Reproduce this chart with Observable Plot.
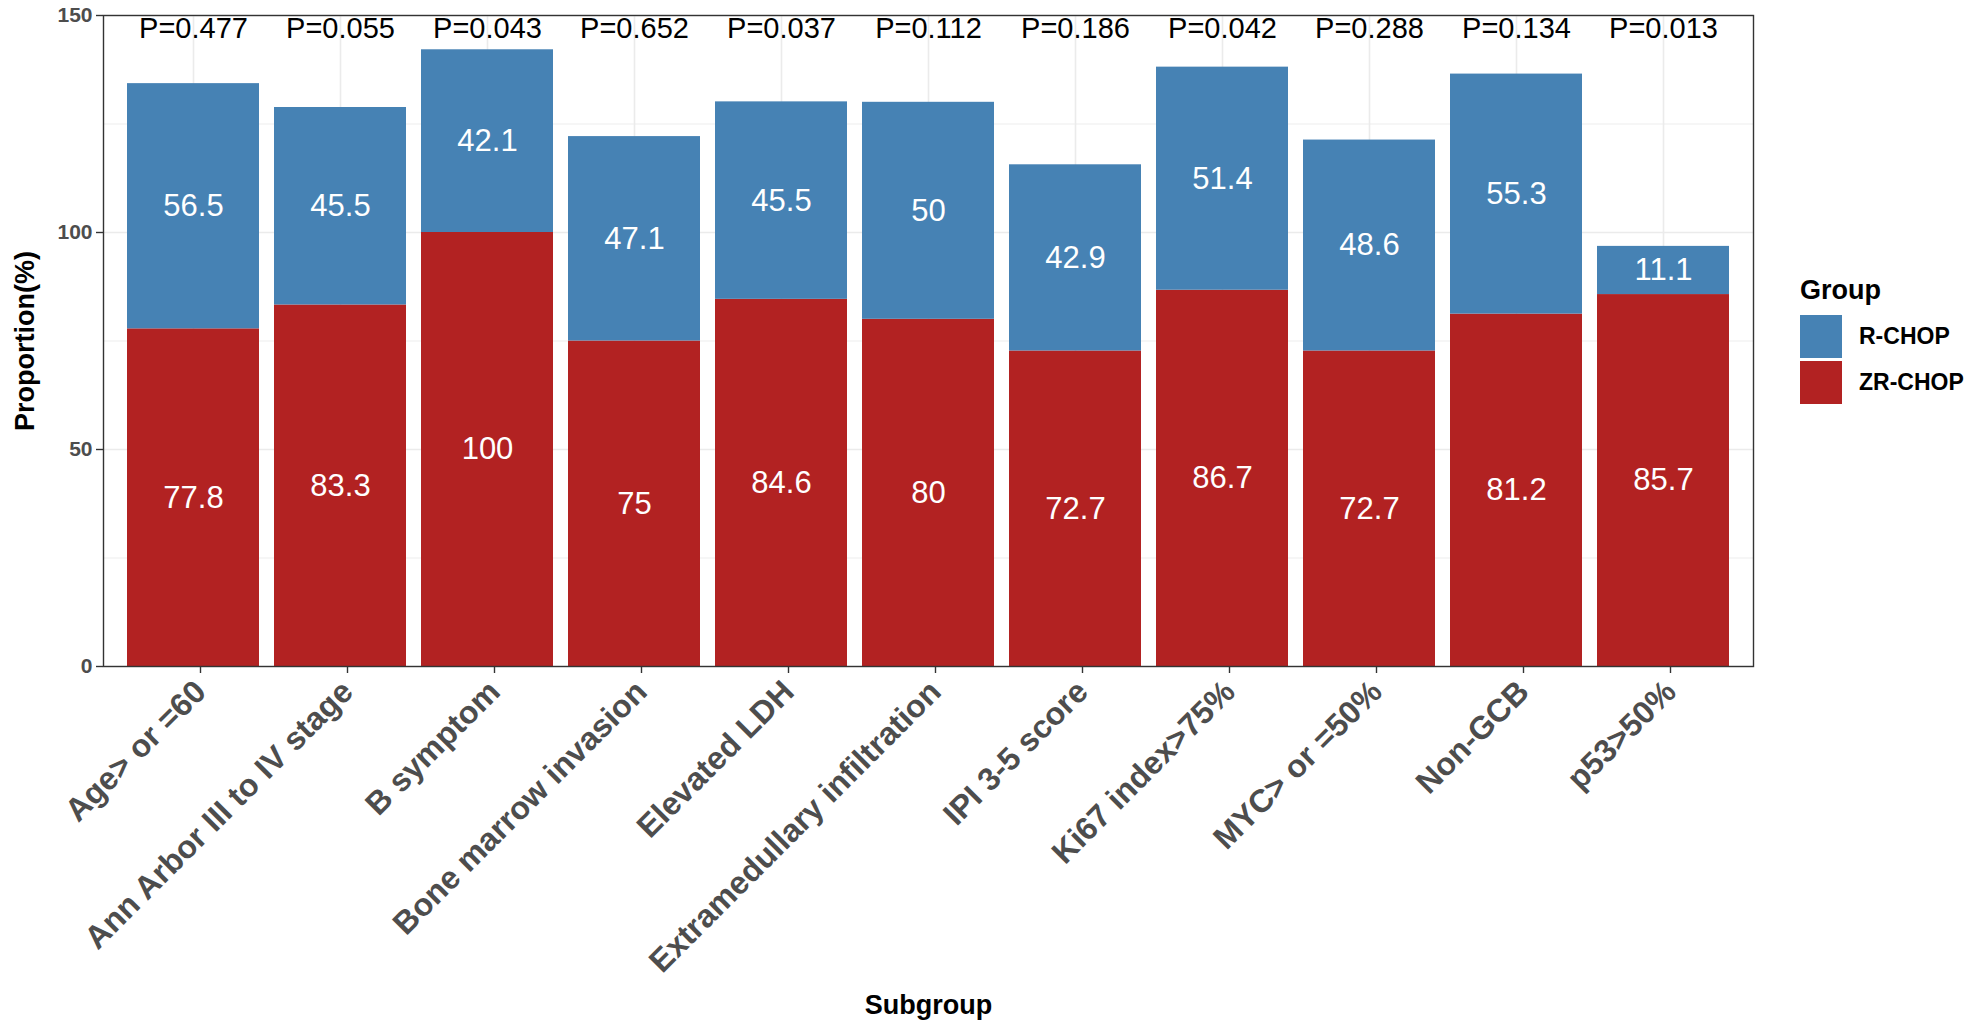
<!DOCTYPE html>
<html>
<head>
<meta charset="utf-8">
<script src="https://cdn.jsdelivr.net/npm/d3@7"></script>
<script src="https://cdn.jsdelivr.net/npm/@observablehq/plot@0.6"></script>
<style>
  html, body { margin: 0; padding: 0; background: #fff; }
  body { font-family: "Liberation Sans", Arial, sans-serif; }
  #wrap { position: relative; width: 1968px; height: 1024px; }
  #legend { position: absolute; left: 1800px; top: 275px; font-family: "Liberation Sans", Arial, sans-serif; }
  #legend .title { font-weight: bold; font-size: 27px; color: #000; margin-bottom: 10px; line-height: 30px; }
  #legend .row { display: flex; align-items: center; height: 43px; margin-bottom: 3px; }
  #legend .sw { width: 42px; height: 43px; }
  #legend .lab { margin-left: 17px; font-weight: bold; font-size: 23px; color: #000; }
</style>
</head>
<body>
<div id="wrap"></div>
<script>
const subgroups = ["Age> or =60","Ann Arbor III to IV stage","B symptom","Bone marrow invasion","Elevated LDH","Extramedullary infiltration","IPI 3-5 score","Ki67 index>75%","MYC> or =50%","Non-GCB","p53>50%"];
const zrChop = [77.8, 83.3, 100, 75, 84.6, 80, 72.7, 86.7, 72.7, 81.2, 85.7];
const rChop = [56.5, 45.5, 42.1, 47.1, 45.5, 50, 42.9, 51.4, 48.6, 55.3, 11.1];
const pValues = ["P=0.477","P=0.055","P=0.043","P=0.652","P=0.037","P=0.112","P=0.186","P=0.042","P=0.288","P=0.134","P=0.013"];
const groups = ["R-CHOP", "ZR-CHOP"];
const groupColors = ["#4682B4", "#B22222"];
const yMajorTicks = [0, 50, 100, 150];
const yMinorTicks = [25, 75, 125];
const pLabelY = 147;

const rows = [];
subgroups.forEach((s, i) => {
  rows.push({subgroup: s, group: "ZR-CHOP", value: zrChop[i]});
  rows.push({subgroup: s, group: "R-CHOP", value: rChop[i]});
});
const pRows = subgroups.map((s, i) => ({subgroup: s, p: pValues[i]}));

const font = '"Liberation Sans", Arial, sans-serif';

const chart = Plot.plot({
  width: 1968,
  height: 1024,
  marginLeft: 103,
  marginRight: 215,
  marginTop: 15,
  marginBottom: 358,
  style: {fontFamily: font, background: "#fff"},
  x: {domain: subgroups, paddingInner: 0.1, paddingOuter: 0.15, label: null},
  y: {domain: [0, 150], label: null},
  color: {domain: groups, range: groupColors},
  marks: [
    Plot.gridY(yMinorTicks, {stroke: "#EBEBEB", strokeOpacity: 1, strokeWidth: 0.9}),
    Plot.gridY(yMajorTicks, {stroke: "#EBEBEB", strokeOpacity: 1, strokeWidth: 1.6}),
    Plot.gridX(subgroups, {stroke: "#EBEBEB", strokeOpacity: 1, strokeWidth: 1.6}),
    Plot.barY(rows, Plot.stackY({x: "subgroup", y: "value", fill: "group", z: "group", order: null})),
    Plot.text(rows, Plot.stackY({x: "subgroup", y: "value", z: "group", order: null, text: d => String(d.value), fill: "white", fontSize: 31})),
    Plot.text(pRows, {x: "subgroup", y: () => pLabelY, text: "p", fill: "black", fontSize: 29}),
    Plot.frame({stroke: "#333", strokeWidth: 1.4}),
    Plot.axisY({ticks: yMajorTicks, tickSize: 7, tickPadding: 4, fontSize: 21, fontWeight: "bold", fill: "#4D4D4D", stroke: "#333", strokeWidth: 1.4, label: null}),
    Plot.axisX({tickSize: 7, tickPadding: 13, dx: 7, tickRotate: -45, fontSize: 32, fontWeight: "bold", fill: "#4D4D4D", stroke: "#333", strokeWidth: 1.4, label: null}),
    Plot.text(["Subgroup"], {frameAnchor: "bottom", lineAnchor: "middle", textAnchor: "middle", dy: 339, fontSize: 27, fontWeight: "bold", fill: "black"}),
    Plot.text(["Proportion(%)"], {frameAnchor: "left", textAnchor: "middle", lineAnchor: "middle", dx: -78, rotate: -90, fontSize: 27, fontWeight: "bold", fill: "black"})
  ]
});

const wrap = document.getElementById("wrap");
wrap.appendChild(chart);

const legend = document.createElement("div");
legend.id = "legend";
let html = '<div class="title">Group</div>';
groups.forEach((g, i) => {
  html += `<div class="row"><div class="sw" style="background:${groupColors[i]}"></div><div class="lab">${g}</div></div>`;
});
legend.innerHTML = html;
wrap.appendChild(legend);
</script>
</body>
</html>
